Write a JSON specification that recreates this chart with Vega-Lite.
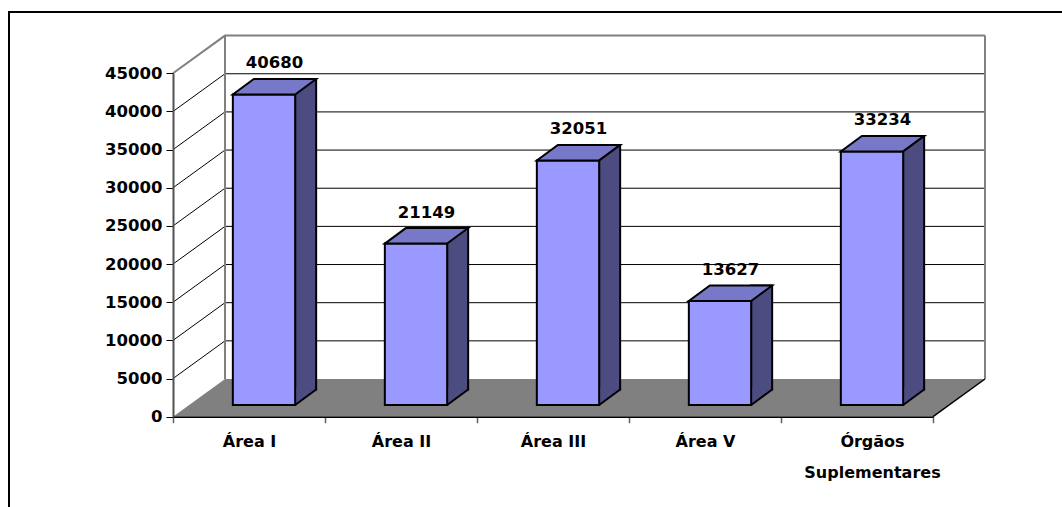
{
  "$schema": "https://vega.github.io/schema/vega-lite/v6.json",
  "autosize": {"type": "none"},
  "padding": {"left": 9, "top": 12, "right": -7, "bottom": -10},
  "width": 1060,
  "height": 505,
  "background": "#ffffff",
  "config": {
    "view": {"stroke": "#000000", "strokeWidth": 2, "fill": "#ffffff"},
    "font": "DejaVu Sans"
  },
  "datasets": {
    "areas": [
      {"area": "Área I", "valor": 40680},
      {"area": "Área II", "valor": 21149},
      {"area": "Área III", "valor": 32051},
      {"area": "Área V", "valor": 13627},
      {"area": "Órgãos Suplementares", "valor": 33234}
    ],
    "ticks": [
      {"v": 0}, {"v": 5000}, {"v": 10000}, {"v": 15000}, {"v": 20000},
      {"v": 25000}, {"v": 30000}, {"v": 35000}, {"v": 40000}, {"v": 45000}
    ]
  },
  "layer": [
    {
      "data": {"name": "ticks"},
      "transform": [{"filter": "datum.v > 0"}],
      "mark": {"type": "point", "shape": "M0,0 L52,-37.7 L812,-37.7", "size": 4, "filled": false, "opacity": 1, "xOffset": -76},
      "encoding": {
        "x": {
          "datum": "Área I",
          "type": "nominal",
          "scale": {
            "type": "band",
            "domain": ["Área I", "Área II", "Área III", "Área V", "Órgãos Suplementares"],
            "range": [164, 924],
            "paddingInner": 0,
            "paddingOuter": 0
          },
          "axis": {
            "orient": "bottom",
            "offset": -100.3,
            "title": null,
            "grid": false,
            "tickBand": "extent",
            "domainColor": "#000000",
            "domainWidth": 1.5,
            "tickColor": "#606060",
            "tickWidth": 1.5,
            "tickSize": 6,
            "labelPadding": 11,
            "labelAngle": 0,
            "labelOffset": {"condition": {"test": "datum.value === 'Órgãos Suplementares'", "value": 15}, "value": 0},
            "labelFont": "DejaVu Sans",
            "labelFontWeight": "bold",
            "labelFontSize": 16,
            "labelColor": "#000000",
            "labelLineHeight": 31,
            "labelLimit": 300,
            "labelExpr": "indexof(datum.label, 'Órgãos') === 0 ? split(datum.label, ' ') : datum.label",
            "zindex": 1
          }
        },
        "y": {
          "field": "v",
          "type": "quantitative",
          "scale": {"domain": [0, 45000], "range": [404.7, 61.3], "nice": false, "zero": true},
          "axis": {
            "orient": "left",
            "offset": -164,
            "title": null,
            "grid": false,
            "values": [0, 5000, 10000, 15000, 20000, 25000, 30000, 35000, 40000, 45000],
            "format": "d",
            "domainColor": "#505050",
            "domainWidth": 2,
            "tickColor": "#000000",
            "tickWidth": 1,
            "tickSize": 7,
            "labelPadding": 4,
            "labelFont": "DejaVu Sans",
            "labelFontWeight": "bold",
            "labelFontSize": 16.5,
            "labelColor": "#000000",
            "labelOverlap": false,
            "zindex": 1
          }
        },
        "color": {"condition": {"test": "datum.v === 45000", "value": "#808080"}, "value": "#000000"},
        "strokeWidth": {"condition": {"test": "datum.v === 45000", "value": 2}, "value": 1}
      }
    },
    {
      "data": {"name": "ticks"},
      "transform": [{"filter": "datum.v === 0"}],
      "mark": {"type": "point", "shape": "M52,-37.7 L52,-381.1 M812,-37.7 L812,-381.1", "size": 4, "filled": false, "color": "#808080", "opacity": 1, "strokeWidth": 2, "xOffset": -76},
      "encoding": {
        "x": {"datum": "Área I", "type": "nominal"},
        "y": {"field": "v", "type": "quantitative"}
      }
    },
    {
      "data": {"name": "ticks"},
      "transform": [{"filter": "datum.v === 0"}],
      "mark": {"type": "point", "shape": "M0,0 L760,0 L812,-37.7 L52,-37.7 Z", "size": 4, "filled": true, "color": "#808080", "opacity": 1, "strokeWidth": 0, "xOffset": -76},
      "encoding": {
        "x": {"datum": "Área I", "type": "nominal"},
        "y": {"field": "v", "type": "quantitative"}
      }
    },
    {
      "data": {"name": "ticks"},
      "transform": [{"filter": "datum.v === 0"}],
      "mark": {"type": "point", "shape": "M760,0 L812,-37.7", "size": 4, "filled": false, "color": "#000000", "opacity": 1, "strokeWidth": 1.5, "xOffset": -76},
      "encoding": {
        "x": {"datum": "Área I", "type": "nominal"},
        "y": {"field": "v", "type": "quantitative"}
      }
    },
    {
      "data": {"name": "areas"},
      "mark": {"type": "bar", "width": {"band": 0.13816}, "xOffset": 56.65, "yOffset": -27.2, "fill": "#4C4C80", "stroke": "#000000", "strokeWidth": 2},
      "encoding": {
        "x": {"field": "area", "type": "nominal"},
        "y": {"field": "valor", "type": "quantitative"}
      }
    },
    {
      "data": {"name": "areas"},
      "mark": {"type": "point", "shape": "M30,-17 L51,-17 L51,-14.65 L30,0.85 Z", "size": 4, "filled": true, "color": "#4C4C80", "opacity": 1, "strokeWidth": 0, "xOffset": 15, "yOffset": -11.7},
      "encoding": {
        "x": {"field": "area", "type": "nominal"},
        "y": {"datum": 0, "type": "quantitative"}
      }
    },
    {
      "data": {"name": "areas"},
      "mark": {"type": "point", "shape": "M31.15,0 L52.15,-15.5", "size": 4, "filled": false, "color": "#000000", "opacity": 1, "strokeWidth": 2, "xOffset": 15, "yOffset": -11.7},
      "encoding": {
        "x": {"field": "area", "type": "nominal"},
        "y": {"datum": 0, "type": "quantitative"}
      }
    },
    {
      "data": {"name": "areas"},
      "mark": {"type": "bar", "width": {"band": 0.41}, "xOffset": 15, "yOffset": -11.7, "fill": "#9999FF", "stroke": "#000000", "strokeWidth": 2},
      "encoding": {
        "x": {"field": "area", "type": "nominal"},
        "y": {"field": "valor", "type": "quantitative"}
      }
    },
    {
      "data": {"name": "areas"},
      "mark": {"type": "point", "shape": "M-31.15,0 L31.15,0 L52.15,-15.5 L-10.15,-15.5 Z", "size": 4, "filled": true, "fill": "#7878C8", "stroke": "#000000", "strokeWidth": 2, "opacity": 1, "xOffset": 15, "yOffset": -11.7},
      "encoding": {
        "x": {"field": "area", "type": "nominal"},
        "y": {"field": "valor", "type": "quantitative"}
      }
    },
    {
      "data": {"name": "areas"},
      "mark": {"type": "text", "align": "center", "baseline": "alphabetic", "font": "DejaVu Sans", "fontWeight": "bold", "fontSize": 16.5, "color": "#000000", "xOffset": 25.5, "yOffset": -37.8},
      "encoding": {
        "x": {"field": "area", "type": "nominal"},
        "y": {"field": "valor", "type": "quantitative"},
        "text": {"field": "valor", "type": "quantitative", "format": "d"}
      }
    }
  ]
}
